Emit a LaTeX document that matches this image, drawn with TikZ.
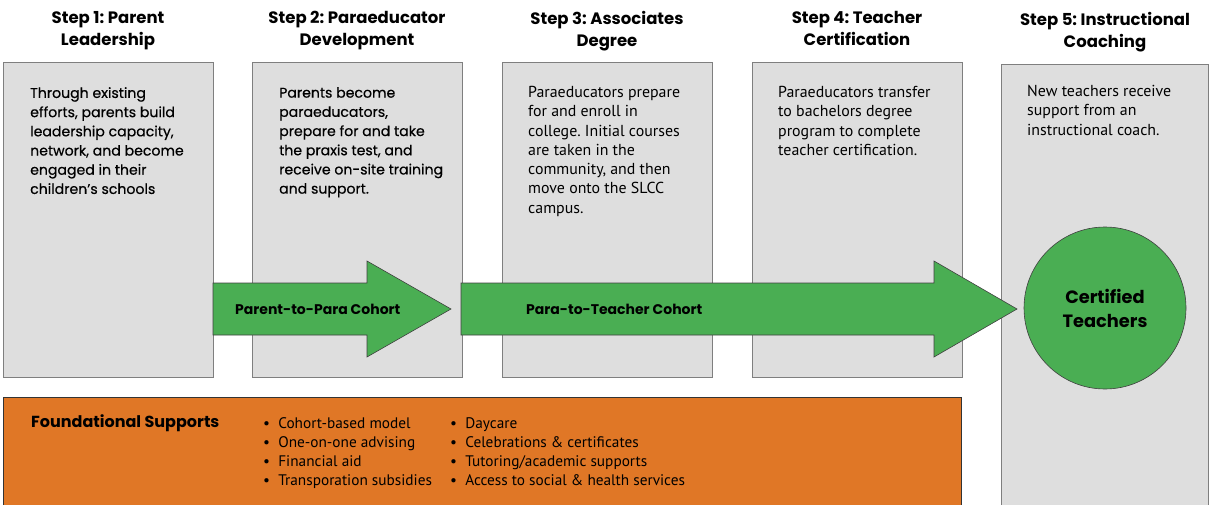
\documentclass[tikz,border=0pt]{standalone}
\usepackage{fontspec}
\newfontfamily\titlefont{Poppins}
\newfontfamily\geofont[FakeBold=0.5]{Poppins}
\newfontfamily\bodyfont{PT Sans}
\definecolor{boxgray}{HTML}{DEDEDE}
\definecolor{boxline}{HTML}{7F7F7F}
\definecolor{arrowgreen}{HTML}{4AAE53}
\definecolor{supportorange}{HTML}{E07726}
\tikzset{
  stepbox/.style={draw=boxline, fill=boxgray, line width=1pt, inner sep=0pt, anchor=north west, minimum width=210pt, minimum height=315pt},
  steptitle/.style={font=\titlefont\bfseries\fontsize{16.5}{22}\selectfont, align=center, anchor=north, inner sep=0pt},
  geotext/.style={font=\geofont\fontsize{14.1}{19.2}\selectfont, align=left, anchor=north west, inner sep=0pt},
  condtext/.style={font=\bodyfont\fontsize{15.9}{19.3}\selectfont, align=left, anchor=north west, inner sep=0pt},
  bigarrow/.style={fill=arrowgreen, draw=black!75, line width=0.6pt},
  arrowlabel/.style={font=\titlefont\bfseries\fontsize{14}{15}\selectfont, inner sep=0pt},
  bullettext/.style={font=\bodyfont\fontsize{15.3}{19.3}\selectfont, align=left, anchor=north west, inner sep=0pt}
}
\begin{document}
\frenchspacing
\begin{tikzpicture}[x=1pt,y=-1pt]
\useasboundingbox (0,0) rectangle (1212,505);
% step boxes
\node[stepbox] (b1) at (3,62) {};
\node[stepbox] (b2) at (252,62) {};
\node[stepbox] (b3) at (502,62) {};
\node[stepbox] (b4) at (752,62) {};
% box 5 (extends to bottom)
\fill[boxgray] (1001,65) rectangle (1208,505);
\draw[boxline, line width=1pt] (1001,505) -- (1001,65) -- (1208,65) -- (1208,505);
\coordinate (b5) at (1104.5,65);
% titles
\node[steptitle] (t1) at (108,11) {Step 1: Parent\\Leadership};
\node[steptitle] (t2) at (357,11) {Step 2: Paraeducator\\Development};
\node[steptitle] (t3) at (607,11) {Step 3: Associates\\Degree};
\node[steptitle] (t4) at (857,11) {Step 4: Teacher\\Certification};
\node[steptitle] (t5) at (1105,12) {Step 5: Instructional\\Coaching};
% box texts
\node[geotext] (d1) at (30,87) {Through existing\\efforts, parents build\\leadership capacity,\\network, and become\\engaged in their\\children’s schools};
\node[geotext] (d2) at (279,87) {Parents become\\paraeducators,\\prepare for and take\\the praxis test, and\\receive on-site training\\and support.};
\node[condtext] (d3) at (528,86) {Paraeducators prepare\\for and enroll in\\college. Initial courses\\are taken in the\\community, and then\\move onto the SLCC\\campus.};
\node[condtext] (d4) at (778,86) {Paraeducators transfer\\to bachelors degree\\program to complete\\teacher certification.};
\node[condtext] (d5) at (1027,85) {New teachers receive\\support from an\\instructional coach.};
% arrows
\path[bigarrow] (213,283) -- (367,283) -- (367,261) -- (451,309) -- (367,357) -- (367,335) -- (213,335) -- cycle;
\path[bigarrow] (461,283) -- (934,283) -- (934,261) -- (1017,309) -- (934,357) -- (934,335) -- (461,335) -- cycle;
\node[arrowlabel, anchor=west] (a1) at (235,309) {Parent-to-Para Cohort};
\node[arrowlabel, anchor=west] (a2) at (526,309) {Para-to-Teacher Cohort};
% circle
\node[circle, fill=arrowgreen, draw=black!75, line width=0.6pt, minimum size=162pt, inner sep=0pt, align=center,
      font=\titlefont\bfseries\fontsize{17.8}{24}\selectfont] (ct) at (1105,308) {Certified\\Teachers};
% foundational supports
\fill[supportorange] (3,397) rectangle (961,505);
\draw[black!80, line width=1pt] (3,505) -- (3,397) -- (961,397) -- (961,505);
\node[font=\titlefont\bfseries\fontsize{16}{18}\selectfont, anchor=west, inner sep=0pt] (fs) at (31,423) {Foundational Supports};
\node[bullettext] (l1) at (263,417) {\textbullet\ \ Cohort-based model\\\textbullet\ \ One-on-one advising\\\textbullet\ \ Financial aid\\\textbullet\ \ Transporation subsidies};
\node[bullettext] (l2) at (450,417) {\textbullet\ \ Daycare\\\textbullet\ \ Celebrations \& certificates\\\textbullet\ \ Tutoring/academic supports\\\textbullet\ \ Access to social \& health services};
\end{tikzpicture}
\end{document}
